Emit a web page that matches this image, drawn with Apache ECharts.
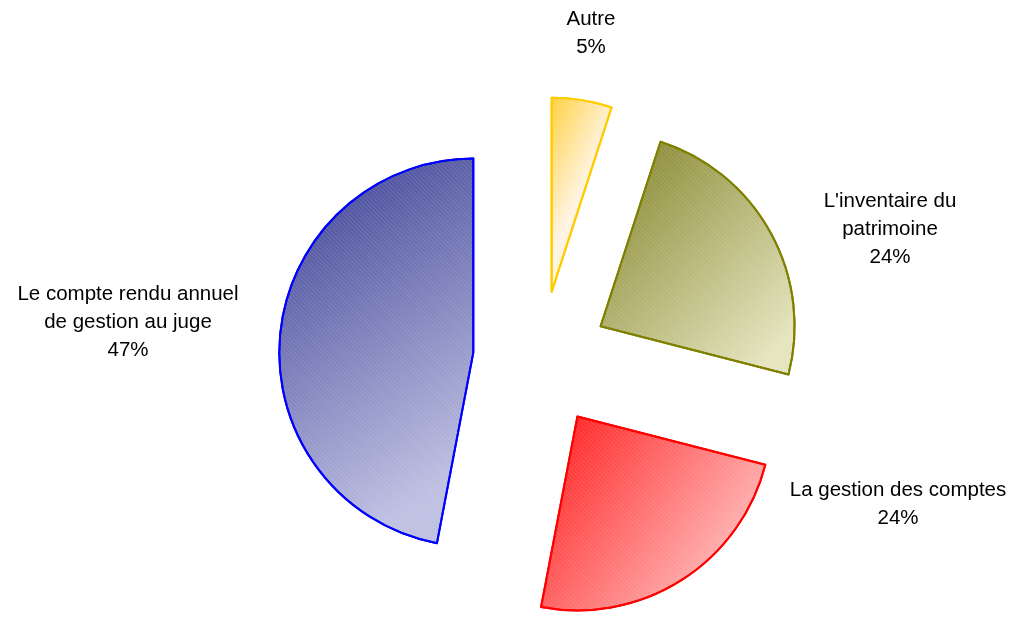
<!DOCTYPE html>
<html>
<head>
<meta charset="utf-8">
<script src="https://cdn.jsdelivr.net/npm/echarts@6/dist/echarts.min.js"></script>
<style>
  html, body { margin: 0; padding: 0; background: #ffffff; }
  #chart { width: 1012px; height: 621px; }
</style>
</head>
<body>
<div id="chart"></div>
<script>
// Répartition des difficultés rencontrées (parts en %)
const categories = [
  'Autre',
  "L'inventaire du\npatrimoine",
  'La gestion des comptes',
  'Le compte rendu annuel\nde gestion au juge'
];
const values = [5, 24, 24, 47];

// Slice styling: gradient from dark to light, solid outline
// (dir = end point of the gradient inside the slice's bounding box)
const sliceStyles = [
  { from: '#FFCF3A', to: '#FFF4E2', border: '#FFCC00', dir: [1, 0.15] },
  { from: '#7E7E22', to: '#E4E4BE', border: '#808000', dir: [1, 0.8] },
  { from: '#FF1414', to: '#FFCDCD', border: '#FF0000', dir: [1, 0.8] },
  { from: '#35398F', to: '#BEC0E2', border: '#0000FF', dir: [1, 0.8] }
];

// Where each label block sits (centre of the text block)
const labelAnchors = [
  [591, 33],
  [890, 229],
  [898, 504],
  [128, 322]
];

const PIE_CENTER = [541, 359];
const PIE_RADIUS = 194;

const chart = echarts.init(document.getElementById('chart'), null, { renderer: 'canvas' });

// fine diagonal hatch laid over every slice
const hatch = {
  symbol: 'rect',
  symbolSize: 1,
  color: 'rgba(255,255,255,0.11)',
  dashArrayX: [1, 0],
  dashArrayY: [1, 2],
  rotation: Math.PI / 4
};

const sliceData = categories.map((name, i) => ({
  name: name,
  value: values[i],
  selected: true,
  itemStyle: {
    color: new echarts.graphic.LinearGradient(0, 0, sliceStyles[i].dir[0], sliceStyles[i].dir[1], [
      { offset: 0, color: sliceStyles[i].from },
      { offset: 1, color: sliceStyles[i].to }
    ]),
    borderColor: sliceStyles[i].border,
    borderWidth: 2,
    decal: hatch
  }
}));

const labelData = categories.map((name, i) => ({ name: name, value: values[i] }));

chart.setOption({
  animation: false,
  backgroundColor: '#ffffff',
  aria: { enabled: false, decal: { show: true } },
  series: [
    {
      // exploded slices
      type: 'pie',
      center: PIE_CENTER,
      radius: PIE_RADIUS,
      startAngle: 90,
      clockwise: true,
      selectedMode: 'multiple',
      selectedOffset: 68,
      data: sliceData,
      select: { itemStyle: { borderWidth: 2 } },
      label: { show: false },
      labelLine: { show: false },
      silent: true
    },
    {
      // category name and share for each slice
      type: 'pie',
      center: PIE_CENTER,
      radius: PIE_RADIUS,
      startAngle: 90,
      clockwise: true,
      silent: true,
      avoidLabelOverlap: false,
      data: labelData,
      itemStyle: { color: 'rgba(0,0,0,0)', borderWidth: 0 },
      label: {
        show: true,
        position: 'outside',
        color: '#000000',
        fontFamily: 'Liberation Sans, Arial, sans-serif',
        fontSize: 20.5,
        lineHeight: 28,
        formatter: p => p.name + '\n' + Math.round(p.percent) + '%'
      },
      labelLine: { show: false },
      labelLayout: params => ({
        x: labelAnchors[params.dataIndex][0],
        y: labelAnchors[params.dataIndex][1],
        align: 'center',
        verticalAlign: 'middle'
      })
    }
  ]
});
</script>
</body>
</html>
